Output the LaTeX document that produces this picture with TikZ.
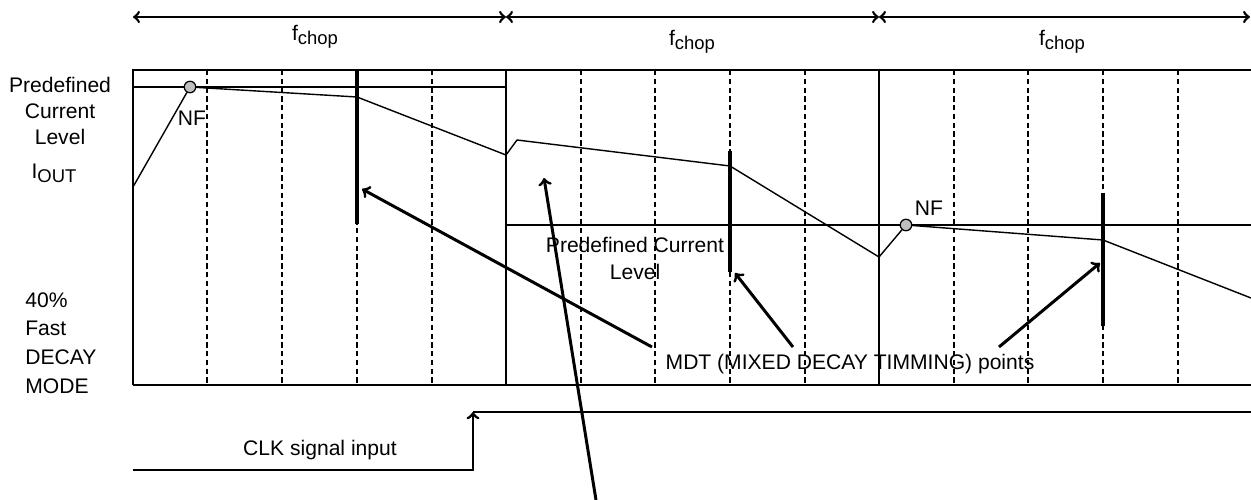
\documentclass[tikz,border=0pt]{standalone}
\usepackage{fontspec}
\setmainfont{Liberation Sans}
\usetikzlibrary{positioning}
\usetikzlibrary{arrows}

\newcommand{\fchop}{f\raisebox{-0.35ex}{\fontsize{10.5}{12}\selectfont chop}}
\newcommand{\iout}{I\raisebox{-0.35ex}{\fontsize{10.5}{12}\selectfont OUT}}

\begin{document}
\begin{tikzpicture}
  [x = 0.02cm, y = -0.02cm,
   every node/.style = {inner sep = 0pt, font = \fontsize{12}{15}\selectfont},
   thinline/.style = {line width = 0.8pt},
   slot/.style = {line width = 0.7pt, dash pattern = on 3pt off 2pt},
   mdt/.style = {line width = 2.8pt},
   pointer/.style = {->, line width = 1.7pt},
   period/.style = {<->, line width = 1.5pt},
   clk/.style = {line width = 1.6pt},
   nf/.style = {circle, draw, fill = black!25, minimum size = 0.23cm, line width = 0.7pt}]
  \useasboundingbox (0, 0) rectangle (1251, 500);

  \coordinate (p0) at (133, 17);
  \coordinate (p1) at (506, 17);
  \coordinate (p2) at (879, 17);
  \coordinate (p3) at (1250, 17);
  \draw [period] (p0) -- (p1);
  \draw [period] (p1) -- (p2);
  \draw [period] (p2) -- (p3);
  \node (f1) at (315, 37) {\fchop};
  \node (f2) at (692, 42) {\fchop};
  \node (f3) at (1062, 42) {\fchop};

  \node [align = center, font = \fontsize{12}{14.8}\selectfont] (pcl) at (60, 111) {Predefined\\Current\\Level};
  \node (iout) at (54, 173) {\iout};
  \node [align = left, anchor = west, font = \fontsize{12}{16.3}\selectfont] (fdm) at (25, 343) {40\%\\Fast\\DECAY\\MODE};

  \draw [slot] (207, 70) -- (207, 385);
  \draw [slot] (282, 70) -- (282, 385);
  \draw [slot] (357, 70) -- (357, 385);
  \draw [slot] (432, 70) -- (432, 385);
  \draw [slot] (581, 70) -- (581, 385);
  \draw [slot] (655, 70) -- (655, 385);
  \draw [slot] (730, 70) -- (730, 385);
  \draw [slot] (805, 70) -- (805, 385);
  \draw [slot] (954, 70) -- (954, 385);
  \draw [slot] (1028, 70) -- (1028, 385);
  \draw [slot] (1103, 70) -- (1103, 385);
  \draw [slot] (1178, 70) -- (1178, 385);

  \draw [thinline] (133, 385) -- (133, 70) -- (1251, 70);
  \draw [thinline] (133, 385) -- (1251, 385);
  \draw [thinline] (506, 70) -- (506, 385);
  \draw [thinline] (879, 70) -- (879, 385);
  \draw [thinline] (133, 87) -- (506, 87);
  \draw [thinline] (506, 225) -- (1251, 225);

  \node [nf] (nf1) at (190, 87) {};
  \node [nf] (nf2) at (906, 225) {};
  \node (nf1t) at (192, 118) {NF};
  \node (nf2t) at (929, 208) {NF};

  \draw [thinline] (133, 187) -- (nf1) -- (357, 97) -- (506, 155) -- (517, 140)
    -- (730, 166) -- (879, 257) -- (nf2) -- (1103, 240) -- (1251, 298);

  \draw [mdt] (357, 70) -- (357, 224);
  \draw [mdt] (730, 151) -- (730, 272);
  \draw [mdt] (1103, 193) -- (1103, 326);

  \node [align = center, font = \fontsize{12}{15.4}\selectfont] (pcl2) at (635, 258) {Predefined Current\\Level};
  \node (mdtt) at (850, 364) {MDT (MIXED DECAY TIMMING) points};

  \coordinate (s1) at (652, 347);
  \coordinate (s2) at (793, 347);
  \coordinate (s3) at (999, 347);
  \coordinate (t1) at (362, 189);
  \coordinate (t2) at (735, 273);
  \coordinate (t3) at (1100, 263);
  \draw [pointer] (s1) -- (t1);
  \draw [pointer] (s2) -- (t2);
  \draw [pointer] (s3) -- (t3);

  \coordinate (s4) at (596, 500);
  \coordinate (t4) at (544, 178);
  \draw [pointer] (s4) -- (t4);

  \coordinate (c0) at (133, 470);
  \coordinate (c1) at (473, 412);
  \coordinate (c2) at (1251, 412);
  \draw [clk, ->] (c0) -| (c1);
  \draw [clk] (c1) -- (c2);
  \node (clkt) at (320, 450) {CLK signal input};
\end{tikzpicture}
\end{document}
